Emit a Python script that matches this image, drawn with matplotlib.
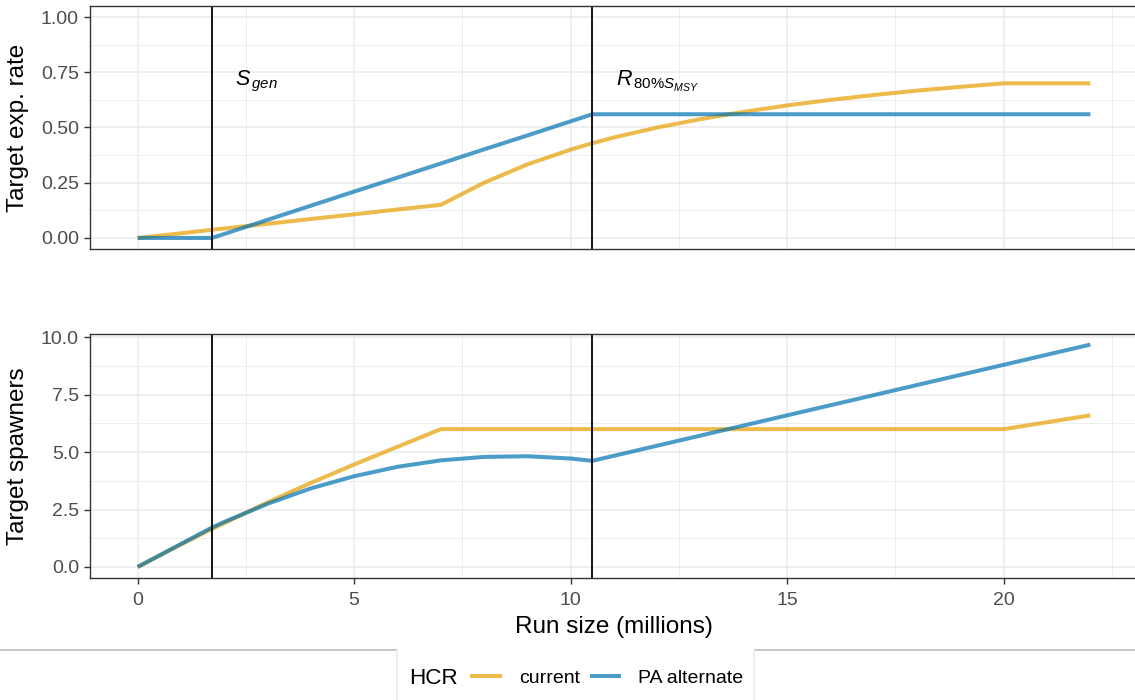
import matplotlib.pyplot as plt
import matplotlib.lines as mlines
import numpy as np

plt.rcParams['font.family'] = ['Liberation Sans', 'DejaVu Sans']
plt.rcParams['mathtext.fontset'] = 'custom'
plt.rcParams['mathtext.it'] = 'Liberation Sans:italic'
plt.rcParams['mathtext.rm'] = 'Liberation Sans'

# run size grid (millions)
run = [0, 1, 1.71, 2, 3, 4, 5, 6, 7, 8, 9, 10, 10.5, 11, 12, 13, 14, 15, 16, 17, 18, 19, 20, 21, 22]

# target exploitation rate
u_current = [0, 0.021, 0.037, 0.043, 0.064, 0.086, 0.107, 0.129, 0.15, 0.25, 0.333, 0.40, 0.429,
             0.455, 0.50, 0.538, 0.571, 0.60, 0.625, 0.647, 0.667, 0.684, 0.70, 0.70, 0.70]
u_pa = [0, 0, 0, 0.018, 0.082, 0.146, 0.21, 0.273, 0.337, 0.401, 0.464, 0.528, 0.56,
        0.56, 0.56, 0.56, 0.56, 0.56, 0.56, 0.56, 0.56, 0.56, 0.56, 0.56, 0.56]

# target spawners
s_current = [0, 0.98, 1.65, 1.91, 2.81, 3.66, 4.46, 5.23, 6.0, 6.0, 6.0, 6.0, 6.0,
             6.0, 6.0, 6.0, 6.0, 6.0, 6.0, 6.0, 6.0, 6.0, 6.0, 6.3, 6.6]
s_pa = [0, 1.0, 1.71, 1.96, 2.75, 3.42, 3.95, 4.36, 4.64, 4.79, 4.82, 4.72, 4.62,
        4.84, 5.28, 5.72, 6.16, 6.60, 7.04, 7.48, 7.92, 8.36, 8.80, 9.24, 9.68]

s_gen = 1.71
r80 = 10.5

col_cur = '#E69F00'
col_pa = '#0072B2'
alpha = 0.7

W, H = 1135, 700
fig = plt.figure(figsize=(W / 100, H / 100), dpi=100)

def box(l, r, b, t):
    return [l / W, 1 - b / H, (r - l) / W, (b - t) / H]

ax1 = fig.add_axes(box(90, 1138, 249, 6))
ax2 = fig.add_axes(box(90, 1138, 578, 334))


def style(ax, ylim, yticks, ylabels, yminor):
    ax.set_xlim(-1.1, 23.1)
    ax.set_ylim(*ylim)
    ax.set_xticks([0, 5, 10, 15, 20])
    ax.set_xticks([2.5, 7.5, 12.5, 17.5, 22.5], minor=True)
    ax.set_yticks(yticks)
    ax.set_yticklabels(ylabels)
    ax.set_yticks(yminor, minor=True)
    ax.grid(which='major', color='#EBEBEB', lw=1.1)
    ax.grid(which='minor', color='#EBEBEB', lw=0.6)
    ax.set_axisbelow(True)
    for s in ax.spines.values():
        s.set_color('#333333')
        s.set_linewidth(1.0)
    ax.tick_params(which='major', length=4, width=1.0, color='#333333',
                   labelsize=14, labelcolor='#4D4D4D', pad=4)
    ax.tick_params(axis='x', pad=6)
    ax.tick_params(which='minor', length=0)


style(ax1, (-0.05, 1.05), [0, 0.25, 0.5, 0.75, 1.0],
      ['0.00', '0.25', '0.50', '0.75', '1.00'], [0.125, 0.375, 0.625, 0.875])
style(ax2, (-0.48, 10.14), [0, 2.5, 5, 7.5, 10],
      ['0.0', '2.5', '5.0', '7.5', '10.0'], [1.25, 3.75, 6.25, 8.75])
ax1.tick_params(axis='x', which='both', length=0, labelbottom=False)

ax1.plot(run, u_current, color=col_cur, alpha=alpha, lw=2.9, solid_capstyle='butt')
ax1.plot(run, u_pa, color=col_pa, alpha=alpha, lw=2.9, solid_capstyle='butt')
ax2.plot(run, s_current, color=col_cur, alpha=alpha, lw=2.9, solid_capstyle='butt')
ax2.plot(run, s_pa, color=col_pa, alpha=alpha, lw=2.9, solid_capstyle='butt')

for ax in (ax1, ax2):
    ax.axvline(s_gen, color='black', lw=1.3)
    ax.axvline(r80, color='black', lw=1.3)

ax1.text(2.25, 0.71, r'$S_{\,gen}$', fontsize=15.5, ha='left', va='center')
ax1.text(11.05, 0.71, r'$R_{\,80\%S_{MSY}}$', fontsize=15.5, ha='left', va='center')

ax1.set_ylabel('Target exp. rate', fontsize=17.5)
ax2.set_ylabel('Target spawners', fontsize=17.5)
ax2.set_xlabel('Run size (millions)', fontsize=17.5, labelpad=5)
ax1.yaxis.set_label_coords(-0.058, 0.5)
ax2.yaxis.set_label_coords(-0.058, 0.5)

# legend frame lines
gray = '#BEBEBE'
fig.add_artist(mlines.Line2D([0, 397 / W], [1 - 650 / H] * 2, color=gray, lw=1.2))
fig.add_artist(mlines.Line2D([754 / W, 1], [1 - 650 / H] * 2, color=gray, lw=1.2))
fig.add_artist(mlines.Line2D([397 / W] * 2, [0, 1 - 650 / H], color='#EBEBEB', lw=1.2))
fig.add_artist(mlines.Line2D([754 / W] * 2, [0, 1 - 650 / H], color='#EBEBEB', lw=1.2))

fig.text(409 / W, 1 - 678 / H, 'HCR', fontsize=16.2, ha='left', va='center')
h1 = mlines.Line2D([], [], color=col_cur, alpha=alpha, lw=2.9)
h2 = mlines.Line2D([], [], color=col_pa, alpha=alpha, lw=2.9)
fig.legend([h1, h2], ['current', 'PA alternate'], ncol=2, loc='center',
           bbox_to_anchor=(608 / W, 1 - 678 / H), frameon=False, fontsize=14,
           handlelength=1.4, handletextpad=1.0, columnspacing=0.6, borderpad=0)

fig.savefig('out.png', dpi=100)
